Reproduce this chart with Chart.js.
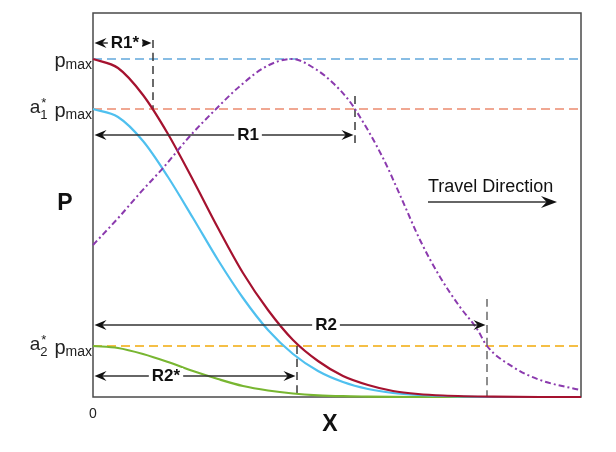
<!DOCTYPE html>
<html><head><meta charset="utf-8">
<script src="https://cdn.jsdelivr.net/npm/chart.js@4.4.0/dist/chart.umd.min.js"></script>
<style>html,body{margin:0;padding:0;background:#fff}canvas{display:block}</style>
</head><body>
<canvas id="c" width="616" height="452"></canvas>
<script>
// ---- data (x: distance, y: pressure, arbitrary units) ----
const curveX = [0,25,50,75,100,125,150,175,200,225,250,275,300,325,350,400,450,488];
const redP   = [338,329,302,263,217,169,124,87,57,36,21,12,6,3,1.5,0.3,0,0];
const blueP  = [288,280,256,220,179,137,99,67,43,26,15,8,4,2,1,0,0,0];
const greenP = [51,49,43,35,26,18,11,6.5,3.5,1.7,0.8,0.4,0.1,0,0,0,0,0];
const purpleX = [0,27,47,70,97,122,147,174,199,224,240,254,262,290,307,327,347,367,384,394,420,447,487];
const purpleP = [152,181,204,229,261,287,311,331,338,327,314,299,288,239,202,157,120,90,68,51,30,17,7];

const levelValues = [338, 288, 51];          // pmax, a1*pmax, a2*pmax
const levelSubs   = ['', '1', '2'];
const xMax = 488, yMax = 384;

const rangeNames      = ['R1*', 'R1', 'R2', 'R2*'];
const rangeEnd        = [60, 262, 394, 204];
const rangeArrowY     = [354, 262, 72, 21];
const rangeLabelX     = [32, 155, 233, 73];
const rangeDashTop    = [357, 301, 98, 51];
const rangeDashBottom = [287, 250, 0, 0];
const rangeDashColor  = ['#3a3a3a', '#3a3a3a', '#6a6a6a', '#3a3a3a'];

const FONT = '"Liberation Sans", Arial, Helvetica, sans-serif';

function pts(xs, ys){ return xs.map((x,i)=>({x:x, y:ys[i]})); }

const datasets = [];
const lvlColors = ['#62a8dc', '#ec8b6f', '#f2aa0a'];
levelValues.forEach((v,i)=>{
  datasets.push({data:[{x:0,y:v},{x:xMax,y:v}], borderColor:lvlColors[i], borderWidth:1.5,
    borderDash:[9,5], order:10});
});
rangeEnd.forEach((x,i)=>{
  datasets.push({data:[{x:x,y:rangeDashTop[i]},{x:x,y:rangeDashBottom[i]}], borderColor:rangeDashColor[i],
    borderWidth:1.5, borderDash:[8,5], order:9});
});
datasets.push({data:pts(curveX, greenP), borderColor:'#78b631', borderWidth:2.2, order:4});
datasets.push({data:pts(curveX, blueP), borderColor:'#4fc0ef', borderWidth:2.2, order:3});
datasets.push({data:pts(curveX, redP), borderColor:'#a5122f', borderWidth:2.2, order:2});
datasets.push({data:pts(purpleX, purpleP), borderColor:'#8b3aae', borderWidth:2, borderDash:[6,3,2,3], order:1});
datasets.forEach(d=>{ d.showLine=true; d.pointRadius=0; d.fill=false; d.clip=false;
  d.cubicInterpolationMode='monotone'; });

function arrowHead(ctx, x, y, dir, len, half){
  len = len || 12; half = half || 5;
  ctx.beginPath();
  ctx.moveTo(x, y);
  ctx.lineTo(x - dir*len, y - half);
  ctx.lineTo(x - dir*len*0.65, y);
  ctx.lineTo(x - dir*len, y + half);
  ctx.closePath();
  ctx.fill();
}

const framePlugin = {
  id:'frame',
  beforeDatasetsDraw(chart){
    const {ctx, chartArea:a} = chart;
    ctx.save();
    ctx.strokeStyle = '#4a4a4a'; ctx.lineWidth = 1.5;
    ctx.strokeRect(a.left, a.top, a.right - a.left, a.bottom - a.top);
    ctx.restore();
  },
  afterDatasetsDraw(chart){
    const {ctx} = chart;
    const xs = chart.scales.x, ys = chart.scales.y;
    ctx.save();
    // range arrows
    rangeNames.forEach((name,i)=>{
      const y = ys.getPixelForValue(rangeArrowY[i]);
      const x0 = xs.getPixelForValue(0) + 1.5, x1 = xs.getPixelForValue(rangeEnd[i]) - 1.5;
      ctx.strokeStyle = '#333'; ctx.fillStyle = '#111'; ctx.lineWidth = 1.3;
      ctx.beginPath(); ctx.moveTo(x0+6, y); ctx.lineTo(x1-6, y); ctx.stroke();
      arrowHead(ctx, x0, y, -1); arrowHead(ctx, x1, y, 1);
      ctx.font = 'bold 17px ' + FONT;
      const w = ctx.measureText(name).width;
      const cx = xs.getPixelForValue(rangeLabelX[i]);
      ctx.fillStyle = '#fff'; ctx.fillRect(cx - w/2 - 3, y - 8, w + 6, 16);
      ctx.fillStyle = '#111'; ctx.textAlign = 'center'; ctx.textBaseline = 'middle';
      ctx.fillText(name, cx, y);
    });
    // level labels
    levelValues.forEach((v,i)=>{
      const yp = ys.getPixelForValue(v);
      const base = yp + 8, right = xs.getPixelForValue(0) - 1;
      ctx.fillStyle = '#222'; ctx.textAlign = 'left'; ctx.textBaseline = 'alphabetic';
      ctx.font = '14px ' + FONT; const wMax = ctx.measureText('max').width;
      let x = right - wMax; ctx.fillText('max', x, base + 2);
      ctx.font = '20px ' + FONT; const wP = ctx.measureText('p').width;
      x -= wP; ctx.fillText('p', x, base);
      const sub = levelSubs[i];
      if (sub){
        x -= 7;
        ctx.font = '13px ' + FONT; const wS = ctx.measureText(sub).width;
        x -= wS; ctx.fillText(sub, x, base + 2);
        ctx.fillText('*', x + 1, base - 10);
        ctx.font = '19px ' + FONT; const wA = ctx.measureText('a').width;
        x -= wA; ctx.fillText('a', x, base - 4);
      }
    });
    // axis labels
    ctx.fillStyle = '#222'; ctx.textAlign = 'center'; ctx.textBaseline = 'alphabetic';
    ctx.font = '14px ' + FONT; ctx.fillText('0', xs.getPixelForValue(0), 418);
    ctx.fillStyle = '#111';
    ctx.font = 'bold 23px ' + FONT; ctx.fillText('P', 65, 210);
    ctx.fillText('X', 330, 431);
    // travel direction
    ctx.textAlign = 'left'; ctx.font = '18px ' + FONT; ctx.fillStyle = '#111';
    ctx.fillText('Travel Direction', 428, 192);
    ctx.strokeStyle = '#333'; ctx.lineWidth = 1.4;
    ctx.beginPath(); ctx.moveTo(428, 202); ctx.lineTo(548, 202); ctx.stroke();
    ctx.fillStyle = '#111'; arrowHead(ctx, 557, 202, 1, 16, 6);
    ctx.restore();
  }
};

new Chart(document.getElementById('c'), {
  type:'scatter',
  data:{datasets},
  options:{
    responsive:false, animation:false, events:[],
    layout:{padding:{left:93, top:13, right:35, bottom:55}},
    plugins:{legend:{display:false}, tooltip:{enabled:false}},
    scales:{
      x:{type:'linear', min:0, max:xMax, display:false},
      y:{type:'linear', min:0, max:yMax, display:false}
    }
  },
  plugins:[framePlugin]
});
</script>
</body></html>
